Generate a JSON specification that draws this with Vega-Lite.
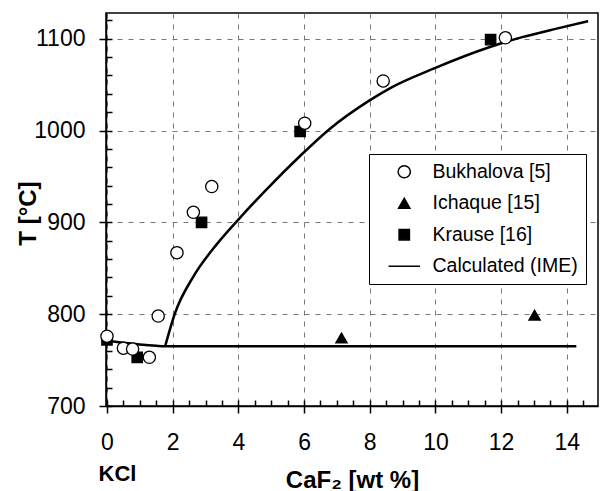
{
  "$schema": "https://vega.github.io/schema/vega-lite/v6.json",
  "width": 492,
  "height": 393,
  "autosize": "none",
  "padding": {"left": 106, "top": 13, "right": 2, "bottom": 85},
  "config": {
    "font": "Liberation Sans",
    "view": {"stroke": "black", "strokeWidth": 1.5},
    "axis": {"labelColor": "black", "titleColor": "black", "tickColor": "black", "domainColor": "black", "labelFont": "Liberation Sans", "titleFont": "Liberation Sans"},
    "legend": {"labelFont": "Liberation Sans"}
  },
  "datasets": {
    "solidus": [
      {"x": 0, "T": 771},
      {"x": 0.5, "T": 769},
      {"x": 1.0, "T": 767},
      {"x": 1.5, "T": 765.5},
      {"x": 1.77, "T": 765},
      {"x": 6, "T": 765},
      {"x": 14.29, "T": 765}
    ],
    "liquidus": [
      {"x": 1.77, "T": 765},
      {"x": 2.07, "T": 801},
      {"x": 2.63, "T": 841},
      {"x": 3.34, "T": 876},
      {"x": 4.0, "T": 903},
      {"x": 4.86, "T": 936},
      {"x": 5.87, "T": 972},
      {"x": 6.79, "T": 1002},
      {"x": 7.96, "T": 1032},
      {"x": 8.61, "T": 1046},
      {"x": 9.98, "T": 1068},
      {"x": 11.66, "T": 1091},
      {"x": 12.67, "T": 1102},
      {"x": 13.69, "T": 1111},
      {"x": 14.65, "T": 1119}
    ],
    "obs": [
      {"series": "Krause [16]", "x": 0, "T": 772},
      {"series": "Krause [16]", "x": 0.92, "T": 753},
      {"series": "Krause [16]", "x": 2.88, "T": 900},
      {"series": "Krause [16]", "x": 5.88, "T": 999},
      {"series": "Krause [16]", "x": 11.68, "T": 1099},
      {"series": "Ichaque [15]", "x": 7.14, "T": 774},
      {"series": "Ichaque [15]", "x": 13.02, "T": 799},
      {"series": "Bukhalova [5]", "x": 0, "T": 776},
      {"series": "Bukhalova [5]", "x": 0.5, "T": 763},
      {"series": "Bukhalova [5]", "x": 0.78, "T": 762},
      {"series": "Bukhalova [5]", "x": 1.29, "T": 753},
      {"series": "Bukhalova [5]", "x": 1.56, "T": 798},
      {"series": "Bukhalova [5]", "x": 2.13, "T": 867},
      {"series": "Bukhalova [5]", "x": 2.63, "T": 911},
      {"series": "Bukhalova [5]", "x": 3.19, "T": 939},
      {"series": "Bukhalova [5]", "x": 6.02, "T": 1008},
      {"series": "Bukhalova [5]", "x": 8.41, "T": 1054},
      {"series": "Bukhalova [5]", "x": 12.13, "T": 1101}
    ]
  },
  "layer": [
    {
      "data": {"name": "solidus"},
      "mark": {"type": "line", "color": "black", "strokeWidth": 2.5, "interpolate": "monotone"},
      "encoding": {
        "x": {
          "field": "x", "type": "quantitative",
          "scale": {"domain": [-0.03, 14.95], "nice": false, "zero": false},
          "axis": {
            "orient": "top", "offset": -393, "title": "", "labels": false, "grid": false,
            "domain": true, "domainOpacity": 0, "ticks": true,
            "tickCount": 30,
            "tickWidth": 1.5, "tickSize": 6, "tickColor": "black"
          }
        },
        "y": {
          "field": "T", "type": "quantitative",
          "scale": {"domain": [700, 1128], "nice": false, "zero": false},
          "axis": {
            "orient": "right", "offset": -492, "title": "", "labels": false, "grid": false,
            "domain": true, "domainOpacity": 0, "ticks": true,
            "tickCount": 22,
            "tickWidth": 1.5, "tickSize": 6, "tickColor": "black"
          }
        }
      }
    },
    {
      "data": {"name": "liquidus"},
      "mark": {"type": "line", "color": "black", "strokeWidth": 2.5, "interpolate": "monotone"},
      "encoding": {
        "x": {
          "field": "x", "type": "quantitative",
          "axis": {
            "orient": "bottom", "values": [0, 2, 4, 6, 8, 10, 12, 14], "format": "d",
            "title": "CaF₂ [wt %]", "titleFontSize": 24, "titleFontWeight": "bold", "titleY": 62, "titleBaseline": "top",
            "grid": true, "gridColor": "#777777", "gridDash": [5, 6], "gridWidth": 1,
            "tickSize": 7, "tickWidth": 1.5, "domainWidth": 1.5,
            "labelFontSize": 23, "labelPadding": 18, "labelFlush": false
          }
        },
        "y": {
          "field": "T", "type": "quantitative",
          "axis": {
            "orient": "left", "values": [700, 800, 900, 1000, 1100], "format": "d",
            "title": "T [°C]", "titleFontSize": 24, "titleFontWeight": "bold",
            "titleX": -78, "titleY": 200, "titleAngle": 270, "titleBaseline": "middle", "titleAlign": "center",
            "grid": true, "gridColor": "#777777", "gridDash": [5, 6], "gridWidth": 1,
            "tickSize": 7, "tickWidth": 1.5, "domainWidth": 1.5,
            "labelFontSize": 23, "labelPadding": 14, "labelFlush": false
          }
        }
      }
    },
    {
      "data": {"name": "obs"},
      "mark": {"type": "point", "filled": true, "stroke": "black", "strokeWidth": 1.3, "opacity": 1},
      "encoding": {
        "x": {
          "field": "x", "type": "quantitative",
          "axis": {
            "orient": "bottom", "values": [0], "labelExpr": "'KCl'", "title": null,
            "labelFontSize": 22, "labelFontWeight": "bold", "labelPadding": 57, "labelOffset": 10,
            "ticks": false, "tickSize": 0, "domain": false, "grid": false, "labelFlush": false
          }
        },
        "y": {"field": "T", "type": "quantitative", "axis": null},
        "shape": {
          "field": "series", "type": "nominal", "title": null,
          "scale": {
            "domain": ["Bukhalova [5]", "Ichaque [15]", "Krause [16]", "Calculated (IME)"],
            "range": ["circle", "triangle-up", "square", "M-3.4,0H3.4"]
          },
          "legend": {
            "orient": "none", "legendX": 263, "legendY": 141,
            "padding": 8, "strokeColor": "black", "fillColor": "white",
            "symbolOffset": 17.5, "labelOffset": 18.5, "rowPadding": 10.5,
            "labelFontSize": 19.5, "labelColor": "black", "labelLimit": 0,
            "symbolStrokeColor": "black", "symbolStrokeWidth": 1.5
          }
        },
        "fill": {
          "field": "series", "type": "nominal", "title": null,
          "scale": {
            "domain": ["Bukhalova [5]", "Ichaque [15]", "Krause [16]", "Calculated (IME)"],
            "range": ["white", "black", "black", "black"]
          }
        },
        "size": {
          "field": "series", "type": "nominal", "title": null,
          "scale": {
            "domain": ["Bukhalova [5]", "Ichaque [15]", "Krause [16]", "Calculated (IME)"],
            "range": [150, 85, 85, 170]
          }
        }
      }
    }
  ],
  "resolve": {"axis": {"x": "independent", "y": "independent"}}
}
